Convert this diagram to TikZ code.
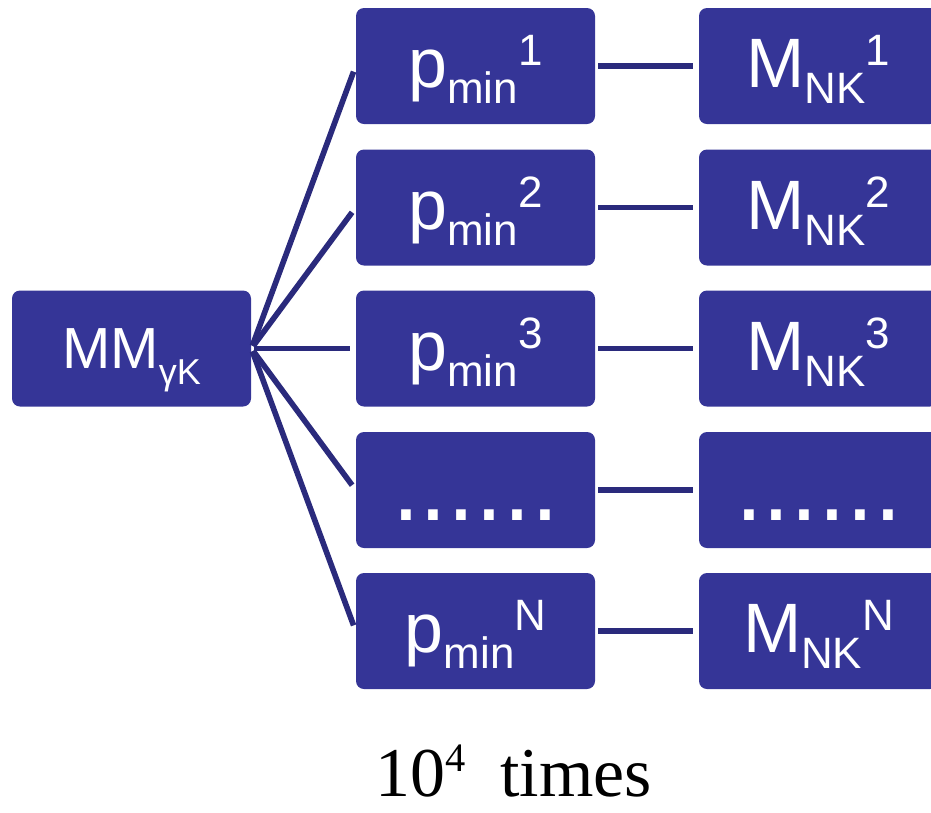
\documentclass[tikz,border=0pt]{standalone}
\usepackage{fontspec}
\setmainfont{Liberation Sans}
\newfontfamily\timesfont{Liberation Serif}

\definecolor{boxblue}{RGB}{53,53,151}
\definecolor{linkblue}{RGB}{42,42,124}

% index set beside the letter: low one, then high one
\newcommand{\lowidx}[1]{\raisebox{-0.32cm}{\fontsize{25}{25}\selectfont #1}}
\newcommand{\highidx}[1]{\raisebox{0.44cm}{\fontsize{25}{25}\selectfont #1}}

\begin{document}
\begin{tikzpicture}[
    box/.style={fill=boxblue, rounded corners=0.16cm, minimum width=4.78cm,
      minimum height=2.32cm, inner sep=0pt, text=white,
      text height=1.2cm, text depth=0.34cm, font=\fontsize{39.8}{40}\selectfont},
    dotbox/.style={box, text depth=0cm, font=\fontsize{57}{57}\selectfont},
    link/.style={draw=linkblue, line width=3.2pt, shorten <=1.7pt, shorten >=3.4pt}]
    \useasboundingbox (0,0) rectangle (18.62,-16.24);

    \node[box, text height=1.0cm, text depth=0.2cm, font=\fontsize{33}{33}\selectfont] (MM) at (2.63,-6.97)
        {MM\raisebox{-0.32cm}{\fontsize{20.5}{20.5}\selectfont γK}};

    \node[box] (p1) at (9.51,-1.32) {p\lowidx{min}\highidx{1}};
    \node[box] (p2) at (9.51,-4.15) {p\lowidx{min}\highidx{2}};
    \node[box] (p3) at (9.51,-6.97) {p\lowidx{min}\highidx{3}};
    \node[dotbox] (p4) at (9.51,-9.80) {......};
    \node[box] (pN) at (9.51,-12.62) {p\lowidx{min}\highidx{N}};

    \node[box] (M1) at (16.37,-1.32) {M\lowidx{NK}\highidx{1}};
    \node[box] (M2) at (16.37,-4.15) {M\lowidx{NK}\highidx{2}};
    \node[box] (M3) at (16.37,-6.97) {M\lowidx{NK}\highidx{3}};
    \node[dotbox] (M4) at (16.37,-9.80) {......};
    \node[box] (MN) at (16.37,-12.62) {M\lowidx{NK}\highidx{N}};

    \node[anchor=base, inner sep=0pt, font=\fontsize{39.8}{40}\selectfont\timesfont] (reps) at (10.27,-15.92)
        {10\raisebox{0.5cm}{\fontsize{23}{23}\selectfont 4}\ \ times};

    \path[link] (MM.east) edge (p1.west)
    (MM.east) edge (p2.west)
    (MM.east) edge (p3.west)
    (MM.east) edge (p4.west)
    (MM.east) edge (pN.west)
    (p1) edge (M1)
    (p2) edge (M2)
    (p3) edge (M3)
    (p4) edge (M4)
    (pN) edge (MN);
\end{tikzpicture}
\end{document}
